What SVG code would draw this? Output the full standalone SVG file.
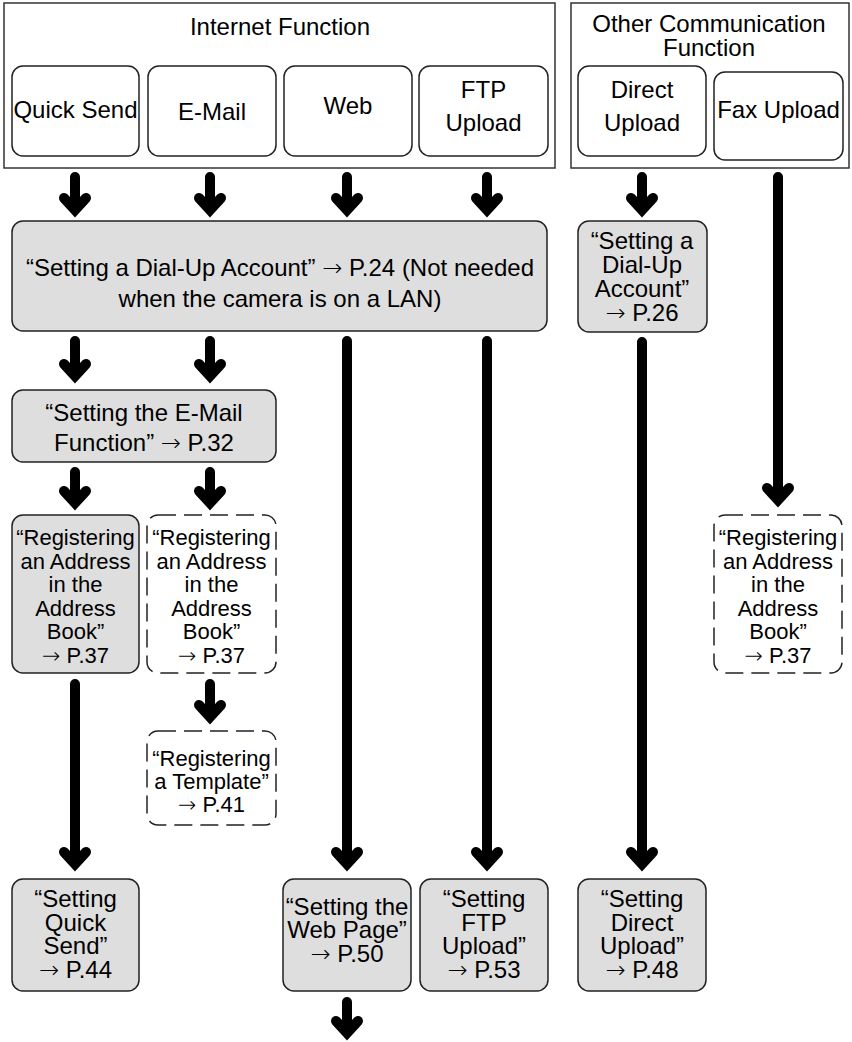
<svg xmlns="http://www.w3.org/2000/svg" width="852" height="1042" viewBox="0 0 852 1042">
<style>
text{font-family:"Liberation Sans",Arial,sans-serif;font-size:24px;fill:#000;text-anchor:middle}
.sm{font-size:22px}
.ar{font-family:"DejaVu Sans","Liberation Sans",sans-serif;font-weight:300}
.frame{fill:#fff;stroke:#333;stroke-width:1.5}
.wb{fill:#fff;stroke:#222;stroke-width:1.5}
.gb{fill:#dedede;stroke:#222;stroke-width:1.5}
.db{fill:#fff;stroke:#222;stroke-width:1.5;stroke-dasharray:18 8}
.arr{fill:none;stroke:#000;stroke-width:10;stroke-linecap:round;stroke-linejoin:miter}
</style>
<rect width="852" height="1042" fill="#fff"/>
<g id="internet-function">
<rect class="frame" x="4" y="3" width="551" height="165"/>
<text x="280" y="35">Internet Function</text>
</g>
<g id="other-communication">
<rect class="frame" x="571" y="3" width="278" height="165"/>
<text x="709" y="32">Other Communication</text>
<text x="709" y="56">Function</text>
</g>
<g id="quick-send"><rect class="wb" x="12" y="66" width="127" height="90" rx="11"/><text x="75.5" y="118">Quick Send</text></g>
<g id="email"><rect class="wb" x="148" y="66" width="128" height="90" rx="11"/><text x="212" y="120">E-Mail</text></g>
<g id="web"><rect class="wb" x="284" y="66" width="128" height="90" rx="11"/><text x="348" y="114">Web</text></g>
<g id="ftp-upload"><rect class="wb" x="419" y="66" width="129" height="90" rx="11"/><text x="483.5" y="98">FTP</text><text x="483.5" y="131">Upload</text></g>
<g id="direct-upload"><rect class="wb" x="578" y="66" width="128" height="90" rx="11"/><text x="642" y="98">Direct</text><text x="642" y="131">Upload</text></g>
<g id="fax-upload"><rect class="wb" x="714" y="72" width="129" height="88" rx="11"/><text x="778.5" y="118">Fax Upload</text></g>

<g id="dialup-account"><rect class="gb" x="12" y="221" width="535" height="110" rx="11"/>
<text x="280" y="276">“Setting a Dial-Up Account” <tspan class="ar">→</tspan> P.24 (Not needed</text>
<text x="280" y="307">when the camera is on a LAN)</text></g>
<g id="dialup-direct"><rect class="gb" x="578" y="221" width="129" height="111" rx="11"/>
<text x="642" y="249">“Setting a</text><text x="642" y="273">Dial-Up</text><text x="642" y="297">Account”</text><text x="642" y="321"><tspan class="ar">→</tspan> P.26</text></g>

<g id="email-function"><rect class="gb" x="12" y="390" width="264" height="72" rx="11"/>
<text x="144" y="421">“Setting the E-Mail</text><text x="144" y="451">Function” <tspan class="ar">→</tspan> P.32</text></g>

<g id="address-quick"><rect class="gb" x="12" y="515" width="127" height="158" rx="11"/>
<text class="sm" x="75.5" y="545">“Registering</text><text class="sm" x="75.5" y="568.5">an Address</text><text class="sm" x="75.5" y="592">in the</text><text class="sm" x="75.5" y="615.5">Address</text><text class="sm" x="75.5" y="639">Book”</text><text class="sm" x="75.5" y="662.5"><tspan class="ar">→</tspan> P.37</text></g>
<g id="address-email"><rect class="db" x="147" y="515" width="129" height="158" rx="11"/>
<text class="sm" x="211.5" y="545">“Registering</text><text class="sm" x="211.5" y="568.5">an Address</text><text class="sm" x="211.5" y="592">in the</text><text class="sm" x="211.5" y="615.5">Address</text><text class="sm" x="211.5" y="639">Book”</text><text class="sm" x="211.5" y="662.5"><tspan class="ar">→</tspan> P.37</text></g>
<g id="address-fax"><rect class="db" x="714" y="515" width="128" height="158" rx="11"/>
<text class="sm" x="778" y="545">“Registering</text><text class="sm" x="778" y="568.5">an Address</text><text class="sm" x="778" y="592">in the</text><text class="sm" x="778" y="615.5">Address</text><text class="sm" x="778" y="639">Book”</text><text class="sm" x="778" y="662.5"><tspan class="ar">→</tspan> P.37</text></g>
<g id="template"><rect class="db" x="147" y="731" width="129" height="94" rx="11"/>
<text class="sm" x="211.5" y="766">“Registering</text><text class="sm" x="211.5" y="789">a Template”</text><text class="sm" x="211.5" y="812"><tspan class="ar">→</tspan> P.41</text></g>

<g id="setting-quick-send"><rect class="gb" x="12" y="879" width="127" height="112" rx="11"/>
<text x="75.5" y="907">“Setting</text><text x="75.5" y="931">Quick</text><text x="75.5" y="954">Send”</text><text x="75.5" y="978"><tspan class="ar">→</tspan> P.44</text></g>
<g id="setting-web-page"><rect class="gb" x="283" y="879" width="128" height="112" rx="11"/>
<text x="347" y="915">“Setting the</text><text x="347" y="938">Web Page”</text><text x="347" y="962"><tspan class="ar">→</tspan> P.50</text></g>
<g id="setting-ftp"><rect class="gb" x="420" y="879" width="128" height="112" rx="11"/>
<text x="484" y="907">“Setting</text><text x="484" y="931">FTP</text><text x="484" y="954">Upload”</text><text x="484" y="978"><tspan class="ar">→</tspan> P.53</text></g>
<g id="setting-direct"><rect class="gb" x="578" y="879" width="128" height="112" rx="11"/>
<text x="642" y="907">“Setting</text><text x="642" y="931">Direct</text><text x="642" y="954">Upload”</text><text x="642" y="978"><tspan class="ar">→</tspan> P.48</text></g>

<g id="connectors" class="arr">
<path d="M75 177V209M64 198L75 210L86 198"/>
<path d="M210 177V209M199 198L210 210L221 198"/>
<path d="M347 177V209M336 198L347 210L358 198"/>
<path d="M487 177V209M476 198L487 210L498 198"/>
<path d="M642 177V209M631 198L642 210L653 198"/>
<path d="M778 177V499M767 488L778 500L789 488"/>
<path d="M75 341V375M64 364L75 376L86 364"/>
<path d="M210 341V375M199 364L210 376L221 364"/>
<path d="M75 472V502M64 491L75 503L86 491"/>
<path d="M210 472V502M199 491L210 503L221 491"/>
<path d="M210 684V716M199 705L210 717L221 705"/>
<path d="M75 684V863M64 852L75 864L86 852"/>
<path d="M347 341V863M336 852L347 864L358 852"/>
<path d="M487 341V863M476 852L487 864L498 852"/>
<path d="M642 342V863M631 852L642 864L653 852"/>
<path d="M347 1002V1032M336 1021L347 1033L358 1021"/>
</g>
</svg>
